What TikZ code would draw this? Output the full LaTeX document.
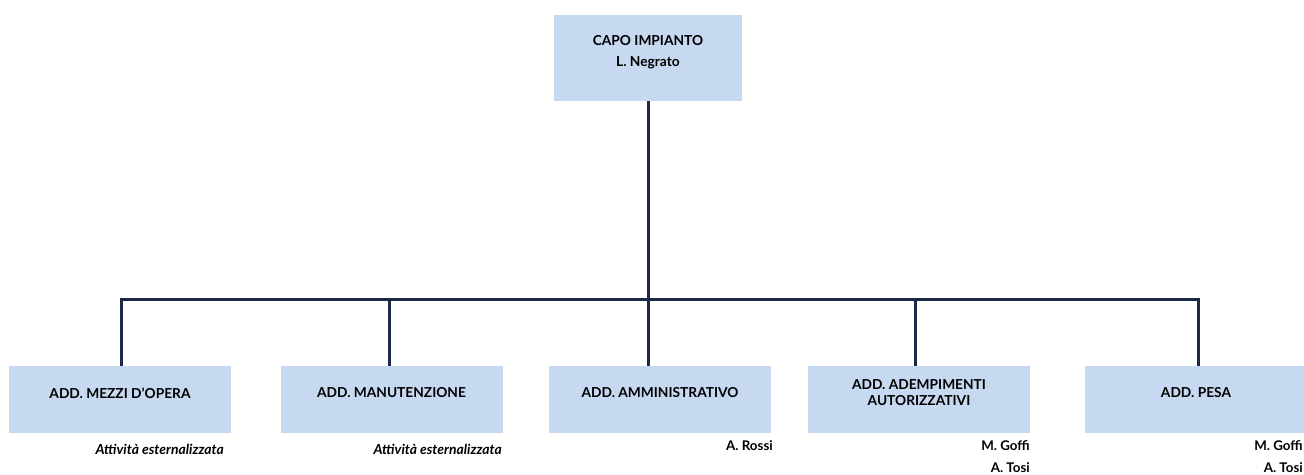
\documentclass[tikz,border=0pt]{standalone}
\usepackage{fontspec}
\setmainfont{Lato}
\definecolor{boxblue}{HTML}{C6D9F0}
\definecolor{linenavy}{HTML}{1D2A47}

\tikzset{
  box/.style={fill=boxblue, minimum width=166.5pt, minimum height=50.25pt, inner sep=0pt},
  bigbox/.style={box, minimum width=141pt, minimum height=64.5pt},
  head/.style={font=\bfseries\fontsize{10.3}{12}\selectfont, align=center, inner sep=0pt},
  who/.style={font=\bfseries\fontsize{10}{16.5}\selectfont, align=right, anchor=east, inner sep=0pt},
  ext/.style={font=\bfseries\itshape\fontsize{10.4}{12}\selectfont, anchor=east, inner sep=0pt},
  wire/.style={draw=linenavy, line width=2.25pt},
}

\begin{document}
\begin{tikzpicture}[x=0.75pt, y=-0.75pt]
    \useasboundingbox (0,0) rectangle (1304,475);
    % boxes
    \node[bigbox] (capo) at (648,58) {};
    \node[box] (mezzi) at (120,399.5) {};
    \node[box] (manut) at (391.5,399.5) {};
    \node[box] (amm) at (660,399.5) {};
    \node[box] (adem) at (919,399.5) {};
    \node[box] (pesa) at (1196,399.5) {};
    % titles
    \node[head, font=\bfseries\fontsize{10.3}{15.75}\selectfont] (capot) at (648,52.5) {CAPO IMPIANTO\\L. Negrato};
    \node[head] (mezzit) at (120,393) {ADD. MEZZI D’OPERA};
    \node[head] (manutt) at (391.5,393) {ADD. MANUTENZIONE};
    \node[head] (ammt) at (660,393) {ADD. AMMINISTRATIVO};
    \node[head] (ademt) at (919,393) {ADD. ADEMPIMENTI\\AUTORIZZATIVI};
    \node[head] (pesat) at (1196,393) {ADD. PESA};
    % who is in charge
    \node[ext] (mezziext) at (224,449) {Attività esternalizzata};
    \node[ext] (manutext) at (502,449) {Attività esternalizzata};
    \node[who] (ammwho) at (773,446) {A. Rossi};
    \node[who] (ademwho) at (1030,457) {M. Goffi\\A. Tosi};
    \node[who] (pesawho) at (1303,457) {M. Goffi\\A. Tosi};
    % connectors
    \coordinate (d1) at (121,299);
    \coordinate (d2) at (389,299);
    \coordinate (d3) at (648,299);
    \coordinate (d4) at (915,299);
    \coordinate (d5) at (1198,299);
    \draw[wire] (capo.south) -- (d3);
    \draw[wire] (d1 |- mezzi.north) -- (d1) -- (d5) -- (d5 |- pesa.north);
    \draw[wire] (d2) -- (d2 |- manut.north);
    \draw[wire] (d3) -- (d3 |- amm.north);
    \draw[wire] (d4) -- (d4 |- adem.north);
\end{tikzpicture}
\end{document}
